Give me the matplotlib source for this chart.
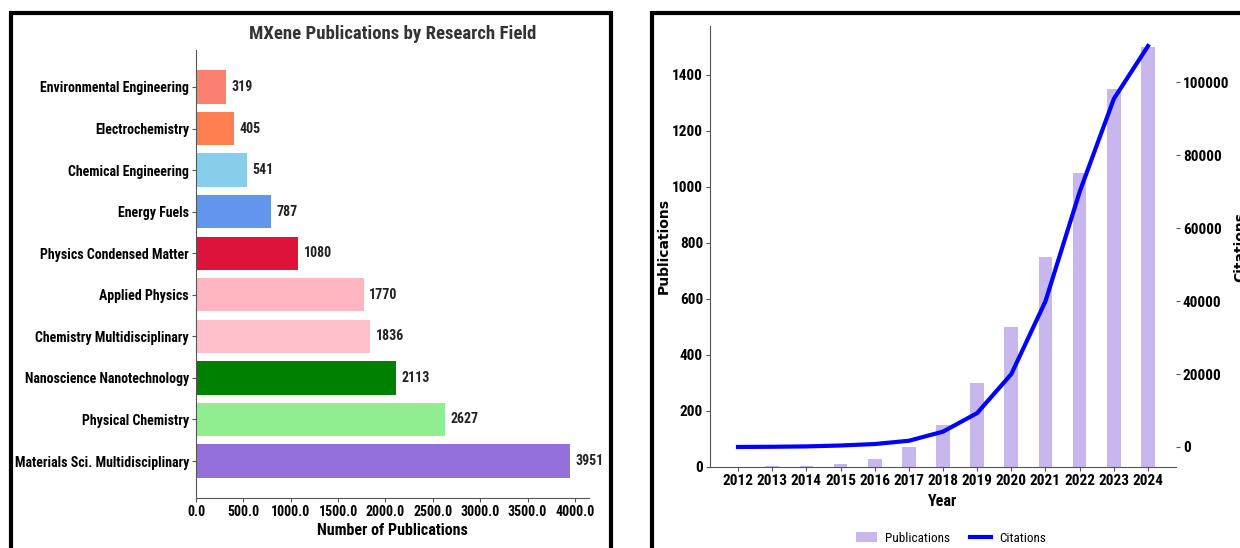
import matplotlib.pyplot as plt
import matplotlib.patches as mpatches
from matplotlib.ticker import FormatStrFormatter

# narrow bold look of the reference
plt.rcParams['font.family'] = ['Roboto Condensed', 'DejaVu Sans']

# Left panel data (top to bottom in the picture)
fields = ['Environmental Engineering', 'Electrochemistry', 'Chemical Engineering',
          'Energy Fuels', 'Physics Condensed Matter', 'Applied Physics',
          'Chemistry Multidisciplinary', 'Nanoscience Nanotechnology',
          'Physical Chemistry', 'Materials Sci. Multidisciplinary']
field_counts = [319, 405, 541, 787, 1080, 1770, 1836, 2113, 2627, 3951]
field_colors = ['salmon', 'coral', 'skyblue', 'cornflowerblue', 'crimson',
                'lightpink', 'pink', 'green', 'lightgreen', 'mediumpurple']

# Right panel data
years = [2012, 2013, 2014, 2015, 2016, 2017, 2018, 2019, 2020, 2021, 2022, 2023, 2024]
publications = [1, 2, 4, 10, 30, 70, 150, 300, 500, 750, 1050, 1350, 1500]
citations = [0, 50, 150, 400, 800, 1700, 4200, 9300, 20000, 40000, 70000, 95500, 110000]

W, H = 1240, 548
fig = plt.figure(figsize=(W / 100, H / 100), dpi=100)

# panel frames
fig.patches.append(mpatches.Rectangle((10.5 / W, -0.1), 600 / W, 1.1 - 13 / H,
                                      transform=fig.transFigure, fill=False,
                                      edgecolor='black', linewidth=3))
fig.patches.append(mpatches.Rectangle((651.5 / W, -0.1), 0.5, 1.1 - 13 / H,
                                      transform=fig.transFigure, fill=False,
                                      edgecolor='black', linewidth=3))

spine_col = '#555555'

# ---- left: horizontal bars
ax1 = fig.add_axes([196 / W, 1 - 498 / H, 393 / W, 448 / H])
bars = ax1.barh(fields[::-1], field_counts[::-1], color=field_colors[::-1], height=0.8)
ax1.bar_label(bars, padding=4, fontsize=10, fontweight='bold', color='#222222')
ax1.set_title('MXene Publications by Research Field', fontsize=13.5,
              fontweight='bold', color='#333333', pad=8)
ax1.set_xlabel('Number of Publications', fontsize=11.5, fontweight='bold', labelpad=3)
ax1.xaxis.set_major_formatter(FormatStrFormatter('%.1f'))
ax1.set_xticks([0, 500, 1000, 1500, 2000, 2500, 3000, 3500, 4000])
for s in ['top', 'right']:
    ax1.spines[s].set_visible(False)
for s in ['left', 'bottom']:
    ax1.spines[s].set_color(spine_col)
ax1.tick_params(axis='both', length=3, color=spine_col, labelsize=10, pad=2)
for lab in ax1.get_xticklabels() + ax1.get_yticklabels():
    lab.set_fontweight('bold')

# ---- right: bars + line on twin axis
ax2 = fig.add_axes([710 / W, 1 - 467 / H, 466 / W, 441 / H])
ax2.bar(years, publications, width=0.4, color='mediumpurple', alpha=0.5,
        label='Publications')
ax2.set_xticks(years)
ax2.set_xlabel('Year', fontsize=11.5, fontweight='bold', labelpad=4)
ax2.set_ylabel('Publications', fontsize=10, fontweight='bold',
               family='DejaVu Sans', labelpad=1)
ax2.set_yticks([0, 200, 400, 600, 800, 1000, 1200, 1400])
for s in ['top', 'right']:
    ax2.spines[s].set_visible(False)
for s in ['left', 'bottom']:
    ax2.spines[s].set_color(spine_col)
ax2.tick_params(axis='both', length=3, color=spine_col, labelsize=11, pad=2)
for lab in ax2.get_xticklabels() + ax2.get_yticklabels():
    lab.set_fontweight('bold')

ax3 = ax2.twinx()
ax3.plot(years, citations, color='blue', linewidth=3, label='Citations')
ax3.set_yticks([0, 20000, 40000, 60000, 80000, 100000])
ax3.set_ylabel('Citations', fontsize=10, fontweight='bold',
               family='DejaVu Sans', labelpad=3)
for s in ax3.spines.values():
    s.set_visible(False)
ax3.tick_params(axis='y', length=3, color=spine_col, labelsize=11, pad=2)
for lab in ax3.get_yticklabels():
    lab.set_fontweight('bold')

h1, l1 = ax2.get_legend_handles_labels()
h2, l2 = ax3.get_legend_handles_labels()
fig.legend(h1 + h2, l1 + l2, loc='center', bbox_to_anchor=(951 / W, 1 - 538 / H),
           ncol=2, frameon=False, fontsize=9.5, handlelength=1.6,
           handletextpad=0.6, columnspacing=1.5)

fig.savefig('out.png', dpi=100)
